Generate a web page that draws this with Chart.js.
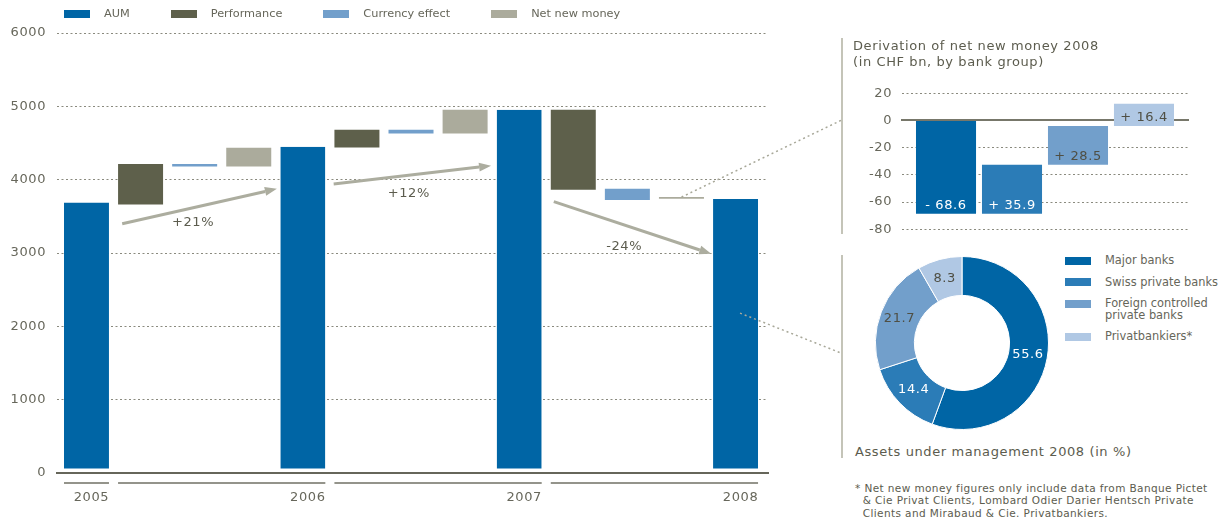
<!DOCTYPE html>
<html>
<head>
<meta charset="utf-8">
<script src="https://cdn.jsdelivr.net/npm/chart.js"></script>
<style>
  body { margin: 0; background: #fff; }
  #page { position: relative; width: 1232px; height: 521px; overflow: hidden;
          font-family: "DejaVu Sans", sans-serif; color: #5c5c4e; }
  .wrap { position: absolute; }
  .rule { position: absolute; width: 2px; background: #c4c4b8; }
  #mainLegend { position: absolute; left: 64px; top: 6.5px; display: flex; align-items: center;
                font-size: 11.3px; line-height: 14px; color: #66665a; }
  #mainLegend .item { display: flex; align-items: center; margin-right: 41px; }
  #mainLegend .swatch { width: 26px; height: 8px; margin-right: 14px; }
  #donutLegend { position: absolute; left: 1065px; top: 255px; width: 167px;
                 font-size: 11.4px; line-height: 11.5px; color: #66665a; }
  #donutLegend .item { display: flex; align-items: flex-start; margin-bottom: 10px; }
  #donutLegend .swatch { flex: none; width: 26px; height: 8px; margin: 1.5px 14px 0 0; }
  #donutLegend .text { width: 125px; }
  #donutTitle { position: absolute; left: 855px; top: 443px; font-size: 13px; line-height: 17px;
                letter-spacing: 0.6px; }
  #footnote { position: absolute; left: 855px; top: 481.5px; font-size: 10.5px; line-height: 12.5px;
              letter-spacing: 0.4px; padding-left: 7.7px; text-indent: -7.7px; white-space: nowrap; }
  #overlay { position: absolute; left: 0; top: 0; pointer-events: none; }
</style>
</head>
<body>
<div id="page">
  <div id="mainWrap" class="wrap" style="left:0;top:0;width:775px;height:521px;"><canvas id="mainCanvas"></canvas></div>
  <div id="mainLegend"></div>

  <div id="subRule" class="rule" style="left:841px;top:38px;height:196px;"></div>
  <div id="subWrap" class="wrap" style="left:840px;top:0;width:392px;height:247px;"><canvas id="subCanvas"></canvas></div>

  <div id="donutRule" class="rule" style="left:841px;top:255px;height:203px;"></div>
  <div id="donutWrap" class="wrap" style="left:875px;top:256px;width:174px;height:174px;"><canvas id="donutCanvas"></canvas></div>
  <div id="donutLegend"></div>
  <div id="donutTitle">Assets under management 2008 (in %)</div>
  <div id="footnote">* Net new money figures only include data from Banque Pictet<br>&amp; Cie Privat Clients, Lombard Odier Darier Hentsch Private<br>Clients and Mirabaud &amp; Cie. Privatbankiers.</div>

  <canvas id="overlay" width="1232" height="521"></canvas>
</div>

<script>
// Assets under management of Swiss banks, CHF bn
const categories = ['2005', 'Performance', 'Currency effect', 'Net new money',
                    '2006', 'Performance', 'Currency effect', 'Net new money',
                    '2007', 'Performance', 'Currency effect', 'Net new money', '2008'];
const years = ['2005', '2006', '2007', '2008'];
const aum = [3688, 4448, 4952, 3738];
// floating steps between year ends: [from, to]
const performance = [[3660, 4215], [4438, 4679], [3861, 4952]];
const currencyEffect = [[4180, 4215], [4629, 4679], [3724, 3875]];
const netNewMoney = [[4180, 4434], [4629, 4952], [3740, 3762]];
const growthLabels = ['+21%', '+12%', '-24%'];
// year brackets under the axis, as category index ranges
const periods = [[0, 0], [1, 4], [5, 8], [9, 12]];

// 2008 breakdown by bank group
const bankGroups = ['Major banks', 'Swiss private banks', 'Foreign controlled private banks', 'Privatbankiers*'];
const netNewMoney2008 = [-68.6, 35.9, 28.5, 16.4];
const aumShare2008 = [55.6, 14.4, 21.7, 8.3];

// growth arrows in data units: [x index, value]
const growthArrows = [
  { from: [0.66, 3400], to: [3.52, 3875], text: [1.97, 3410] },
  { from: [4.57, 3942], to: [7.48, 4190], text: [5.96, 3806] },
  { from: [8.64, 3700], to: [11.55, 2990], text: [9.94, 3083] }
];

const INK = '#5c5c4e';
const TICK_INK = '#67675b';
const GRID = '#8a8a7e';
const groupColors = ['#0065a5', '#2b7cb7', '#729fcb', '#b0c8e4'];
const groupInk = ['#ffffff', '#ffffff', '#4f4f44', '#4f4f44'];

Chart.defaults.font.family = '"DejaVu Sans", sans-serif';
Chart.defaults.font.size = 13;
Chart.defaults.color = TICK_INK;

const letterSpacing = {
  id: 'letterSpacing',
  beforeDraw(chart) { chart.ctx.letterSpacing = '0.6px'; }
};

// bracket lines below the x axis, one per year
const periodLines = {
  id: 'periodLines',
  afterDraw(chart) {
    const ctx = chart.ctx;
    const xs = chart.scales.x;
    const half = chart.getDatasetMeta(0).data[0].width / 2;
    const y = chart.chartArea.bottom + 10;
    ctx.save();
    ctx.strokeStyle = '#707064';
    ctx.lineWidth = 1.5;
    periods.forEach(([a, b]) => {
      ctx.beginPath();
      ctx.moveTo(xs.getPixelForValue(a) - half, y);
      ctx.lineTo(xs.getPixelForValue(b) + half, y);
      ctx.stroke();
    });
    ctx.restore();
  }
};

// growth arrows with percentage labels
const growthPlugin = {
  id: 'growth',
  afterDatasetsDraw(chart) {
    const ctx = chart.ctx;
    const xs = chart.scales.x, ys = chart.scales.y;
    const pt = p => [xs.getPixelForValue(p[0]), ys.getPixelForValue(p[1])];
    ctx.save();
    growthArrows.forEach((a, i) => {
      const [x1, y1] = pt(a.from);
      const [x2, y2] = pt(a.to);
      const ang = Math.atan2(y2 - y1, x2 - x1);
      const head = 12, wing = 4.5;
      const bx = x2 - head * Math.cos(ang), by = y2 - head * Math.sin(ang);
      ctx.strokeStyle = '#acad9f';
      ctx.fillStyle = '#acad9f';
      ctx.lineWidth = 3;
      ctx.beginPath();
      ctx.moveTo(x1, y1);
      ctx.lineTo(bx, by);
      ctx.stroke();
      ctx.beginPath();
      ctx.moveTo(x2, y2);
      ctx.lineTo(bx + wing * Math.sin(ang), by - wing * Math.cos(ang));
      ctx.lineTo(bx - wing * Math.sin(ang), by + wing * Math.cos(ang));
      ctx.closePath();
      ctx.fill();
      const [tx, ty] = pt(a.text);
      ctx.fillStyle = INK;
      ctx.font = '13px "DejaVu Sans", sans-serif';
      ctx.textAlign = 'center';
      ctx.textBaseline = 'middle';
      ctx.fillText(growthLabels[i], tx, ty);
    });
    ctx.restore();
  }
};

const mainChart = new Chart(document.getElementById('mainCanvas'), {
  type: 'bar',
  data: {
    datasets: [
      { label: 'AUM', data: aum.map((v, k) => ({ x: 4 * k, y: [0, v] })),
        backgroundColor: '#0065a5', borderColor: '#ffffff', borderWidth: { bottom: 4 }, borderSkipped: false },
      { label: 'Performance', data: performance.map((r, k) => ({ x: 4 * k + 1, y: r })),
        backgroundColor: '#5e604b' },
      { label: 'Currency effect', data: currencyEffect.map((r, k) => ({ x: 4 * k + 2, y: r })),
        backgroundColor: '#729fcb' },
      { label: 'Net new money', data: netNewMoney.map((r, k) => ({ x: 4 * k + 3, y: r })),
        backgroundColor: '#abab9c' }
    ]
  },
  options: {
    animation: false,
    responsive: true,
    maintainAspectRatio: false,
    events: [],
    layout: { padding: { top: 33, right: 7, bottom: 0, left: 0 } },
    datasets: { bar: { grouped: false, barPercentage: 0.832, categoryPercentage: 1 } },
    plugins: { legend: { display: false }, tooltip: { enabled: false } },
    scales: {
      x: {
        type: 'linear', min: -0.545, max: 12.6, offset: false,
        grid: { display: false, drawTicks: false },
        border: { display: true, color: '#66665a', width: 2, z: 1 },
        afterBuildTicks: s => { s.ticks = years.map((_, k) => ({ value: 4 * k })); },
        afterFit: s => { s.height = 48; },
        ticks: { callback: v => categories[v] || '', padding: 17, labelOffset: 5,
                 maxRotation: 0, autoSkip: false, font: { size: 13 } }
      },
      y: {
        min: 0, max: 6000,
        afterFit: s => { s.width = 57; },
        ticks: { stepSize: 1000, padding: 11, font: { size: 13 }, callback: v => String(v) },
        grid: { drawTicks: false, lineWidth: 1,
                color: c => c.tick && c.tick.value === 0 ? 'rgba(0,0,0,0)' : GRID },
        border: { display: false, dash: [2, 2.5] }
      }
    }
  },
  plugins: [letterSpacing, periodLines, growthPlugin]
});

// net new money 2008 as a waterfall from zero
let level = 0;
const flowRanges = netNewMoney2008.map(v => { const r = [level, level + v]; level += v; return r; });

const flowLabels = {
  id: 'flowLabels',
  afterDatasetsDraw(chart) {
    const ctx = chart.ctx;
    ctx.save();
    ctx.font = '13px "DejaVu Sans", sans-serif';
    ctx.textAlign = 'center';
    ctx.textBaseline = 'middle';
    chart.getDatasetMeta(0).data.forEach((bar, i) => {
      const v = netNewMoney2008[i];
      const text = (v < 0 ? '- ' : '+ ') + Math.abs(v).toFixed(1);
      ctx.fillStyle = groupInk[i];
      ctx.fillText(text, bar.x, Math.max(bar.y, bar.base) - 8.5);
    });
    ctx.restore();
  }
};

const subChart = new Chart(document.getElementById('subCanvas'), {
  type: 'bar',
  data: {
    labels: bankGroups,
    datasets: [{ data: flowRanges.map((r, i) => ({ x: i, y: r })), backgroundColor: groupColors }]
  },
  options: {
    animation: false,
    responsive: true,
    maintainAspectRatio: false,
    events: [],
    layout: { padding: { top: 39, left: 13, right: 44, bottom: 0 } },
    datasets: { bar: { barPercentage: 0.91, categoryPercentage: 1 } },
    plugins: {
      legend: { display: false },
      tooltip: { enabled: false },
      title: {
        display: true, align: 'start', color: INK,
        text: ['Derivation of net new money 2008', '(in CHF bn, by bank group)'],
        font: { size: 13, weight: 'normal', lineHeight: 1.2 },
        padding: { top: 0, bottom: 23 }
      }
    },
    scales: {
      x: {
        type: 'linear', min: -0.667, max: 3.667, offset: false, position: { y: 0 },
        grid: { display: false, drawTicks: false },
        ticks: { display: false },
        afterFit: s => { s.height = 0; },
        border: { display: true, color: '#77776a', width: 2 }
      },
      y: {
        min: -80, max: 20,
        afterFit: s => { s.width = 49; },
        ticks: { stepSize: 20, padding: 10, font: { size: 13 } },
        grid: { drawTicks: false,
                color: c => c.tick && c.tick.value === 0 ? 'rgba(0,0,0,0)' : GRID },
        border: { display: false, dash: [2, 2.5] }
      }
    }
  },
  plugins: [letterSpacing, flowLabels]
});

const shareLabels = {
  id: 'shareLabels',
  afterDatasetsDraw(chart) {
    const ctx = chart.ctx;
    ctx.save();
    ctx.font = '13px "DejaVu Sans", sans-serif';
    ctx.textAlign = 'center';
    ctx.textBaseline = 'middle';
    chart.getDatasetMeta(0).data.forEach((arc, i) => {
      const p = arc.tooltipPosition();
      ctx.fillStyle = groupInk[i];
      ctx.fillText(aumShare2008[i].toFixed(1), p.x, p.y);
    });
    ctx.restore();
  }
};

const donutChart = new Chart(document.getElementById('donutCanvas'), {
  type: 'doughnut',
  data: {
    labels: bankGroups,
    datasets: [{ data: aumShare2008, backgroundColor: groupColors, borderColor: '#ffffff', borderWidth: 1 }]
  },
  options: {
    animation: false,
    responsive: true,
    maintainAspectRatio: false,
    events: [],
    cutout: '55%',
    layout: { padding: 0 },
    plugins: { legend: { display: false }, tooltip: { enabled: false } }
  },
  plugins: [letterSpacing, shareLabels]
});

// html legends built from the chart data
function addLegendItem(parent, color, text) {
  const item = document.createElement('div');
  item.className = 'item';
  const sw = document.createElement('span');
  sw.className = 'swatch';
  sw.style.background = color;
  const tx = document.createElement('span');
  tx.className = 'text';
  tx.textContent = text;
  item.append(sw, tx);
  parent.appendChild(item);
}
const mainLegend = document.getElementById('mainLegend');
mainChart.data.datasets.forEach(ds => addLegendItem(mainLegend, ds.backgroundColor, ds.label));
const donutLegend = document.getElementById('donutLegend');
donutChart.data.labels.forEach((l, i) => addLegendItem(donutLegend, groupColors[i], l));

// dotted leader lines from the 2008 bars to the side panels
function drawLeaders() {
  const ctx = document.getElementById('overlay').getContext('2d');
  const subWrap = document.getElementById('subWrap');
  const donutWrap = document.getElementById('donutWrap');
  const subRule = document.getElementById('subRule');
  const donutRule = document.getElementById('donutRule');
  const nnmBar = mainChart.getDatasetMeta(3).data[2];
  const aumBar = mainChart.getDatasetMeta(0).data[3];
  const ys = mainChart.scales.y;

  ctx.strokeStyle = '#a8a899';
  ctx.lineWidth = 1.5;
  ctx.setLineDash([2, 3]);

  ctx.beginPath();
  ctx.moveTo(nnmBar.x, nnmBar.y);
  ctx.lineTo(subRule.offsetLeft, subWrap.offsetTop + subChart.scales.y.getPixelForValue(0));
  ctx.stroke();

  ctx.beginPath();
  ctx.moveTo(aumBar.x + 4.5, ys.getPixelForValue(2180));
  ctx.lineTo(donutRule.offsetLeft, donutWrap.offsetTop + donutChart.chartArea.height / 2 + 10);
  ctx.stroke();
}
drawLeaders();
</script>
</body>
</html>
